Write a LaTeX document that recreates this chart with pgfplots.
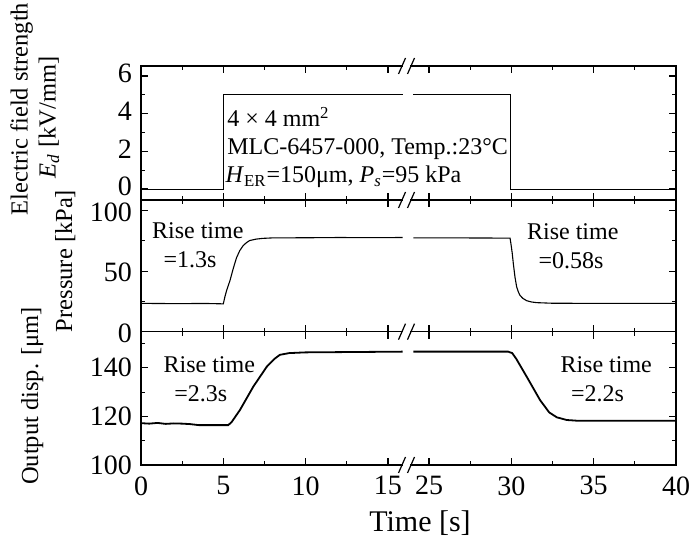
\documentclass[border=0pt]{standalone}
\usepackage{fontspec}
\setmainfont{Liberation Serif}
\usepackage{pgfplots}
\pgfplotsset{compat=1.18}
\newcommand{\fs}{\fontsize{12bp}{14bp}\selectfont}
\begin{document}
\begin{tikzpicture}
\useasboundingbox (0,0) rectangle (345bp,269.5bp);
\pgfplotsset{
 panel/.style={
  width=267.5bp, scale only axis, anchor=south west,
  xmin=0, xmax=32.5,
  xtick={0,5,10,15,17.5,22.5,27.5,32.5},
  minor xtick={2.5,7.5,12.5,20,25,30},
  xticklabels={},
  tick align=inside, xtick pos=both, ytick pos=both,
  major tick length=3.5bp, minor tick length=2bp,
  every tick/.style={black, line width=0.6bp},
  every minor tick/.style={black, line width=0.5bp},
  axis line style={line width=0.8bp},
  clip=false,
  /pgf/number format/assume math mode=true,
  ticklabel style={font=\fontsize{14bp}{16bp}\selectfont},
  yticklabel style={xshift=-1bp, inner ysep=0pt},
  xticklabel style={yshift=-2.2bp},
 },
}
% ---------- bottom panel: output displacement
\begin{axis}[panel, name=bot, at={(70.5bp,37bp)}, height=66.65bp,
  ymin=100, ymax=154.8, ytick={100,120,140}, minor ytick={110,130,150},
  xticklabels={0,5,10,15,25,30,35,40}]
\addplot[black, line width=0.9bp] coordinates {
 (0,117.2) (0.5,117.0) (1,117.3) (1.5,116.9) (2,117.1) (2.5,117.0) (3,116.8)
 (3.5,116.4) (4.5,116.4) (5.3,116.4) (5.5,117.6) (6.01,122.6) (6.82,132.2)
 (7.64,140.4) (8.1,143.6) (8.44,145.3) (9,146.0) (10,146.3) (12,146.4)
 (14,146.5) (15.9,146.6)};
\addplot[black, line width=0.9bp] coordinates {
 (16.55,146.6) (19,146.6) (22.3,146.6) (22.55,146.0) (22.8,143.6)
 (23.43,136.3) (24.24,126.7) (24.8,121.6) (25.26,119.6) (25.86,118.5)
 (26.5,118.2) (29,118.2) (32.5,118.2)};
\node[anchor=base west, inner sep=0pt, font=\fs] at (axis cs:1.35,137.9) {Rise time};
\node[anchor=base west, inner sep=0pt, font=\fs] at (axis cs:2.0,125.9) {=2.3s};
\node[anchor=base west, inner sep=0pt, font=\fs] at (axis cs:25.46,137.9) {Rise time};
\node[anchor=base west, inner sep=0pt, font=\fs] at (axis cs:26.1,125.9) {=2.2s};
\end{axis}
% ---------- middle panel: pressure
\begin{axis}[panel, name=mid, at={(70.5bp,103.65bp)}, height=65.85bp,
  ymin=0, ymax=108.8, ytick={0,50,100}, minor ytick={25,75},
  yticklabel style={yshift=-0.8bp}]
\addplot[black, line width=0.55bp] coordinates {
 (0,23.4) (2,23.2) (4,23.3) (5,23.0) (5.1,29) (5.2,34) (5.3,38) (5.4,42)
 (5.6,52) (5.8,61) (6.0,67) (6.2,71) (6.4,73.5) (6.6,75.3) (7.0,76.5)
 (7.4,77.1) (8,77.5) (10,77.6) (12,77.8) (14,77.7) (15.9,77.8)};
\addplot[black, line width=0.55bp] coordinates {
 (16.55,77.5) (19,77.5) (22.42,77.3) (22.48,72) (22.55,65) (22.62,56)
 (22.72,45) (22.82,37) (22.92,33) (23.02,30) (23.2,27.5) (23.43,25.6)
 (23.7,24.6) (24.03,24.0) (25,23.5) (28,23.4) (32.5,23.4)};
\node[anchor=base west, inner sep=0pt, font=\fs] at (axis cs:0.65,77.2) {Rise time};
\node[anchor=base west, inner sep=0pt, font=\fs] at (axis cs:1.35,53.2) {=1.3s};
\node[anchor=base west, inner sep=0pt, font=\fs] at (axis cs:23.43,75.8) {Rise time};
\node[anchor=base west, inner sep=0pt, font=\fs] at (axis cs:24.13,52.4) {=0.58s};
\end{axis}
% ---------- top panel: electric field
\begin{axis}[panel, name=top, at={(70.5bp,169.5bp)}, height=67bp,
  ymin=-0.58, ymax=6.53, ytick={0,2,4,6}, minor ytick={1,3,5},
  yticklabel style={yshift=1.2bp}]
\addplot[black, line width=0.55bp] coordinates {(0,0) (5,0) (5,5) (15.9,5)};
\addplot[black, line width=0.55bp] coordinates {(16.55,5) (22.45,5) (22.45,0) (32.5,0)};
\node[anchor=base west, inner sep=0pt, font=\fs] at (axis cs:5.22,3.31) {4 × 4 mm\textsuperscript{2}};
\node[anchor=base west, inner sep=0pt, font=\fs] at (axis cs:5.22,1.81) {MLC-6457-000, Temp.:23°C};
\node[anchor=base west, inner sep=0pt, font=\fs] at (axis cs:5.12,0.33) {\textit{H}\textsubscript{ER}=150μm, \textit{P}\textsubscript{\textit{s}}=95 kPa};
\end{axis}
% ---------- axis break marks
\foreach \yy in {236.5bp,169.5bp,103.65bp,37bp}{
  \fill[white] (201.5bp,\yy-1.2bp) rectangle (205bp,\yy+1.2bp);
  \draw[black, line width=0.6bp] (199.25bp,\yy-4bp) -- (202.75bp,\yy+4bp);
  \draw[black, line width=0.6bp] (203.75bp,\yy-4bp) -- (207.25bp,\yy+4bp);
}
% ---------- axis labels
\node[rotate=90, anchor=base, font=\fontsize{12.25bp}{14bp}\selectfont] at (13.8bp,215bp) {Electric field strength};
\node[rotate=90, anchor=base, font=\fontsize{12.25bp}{14bp}\selectfont] at (27.75bp,210.75bp) {\textit{E}\textsubscript{\textit{d}} [kV/mm]};
\node[rotate=90, anchor=base, font=\fontsize{12.25bp}{14bp}\selectfont] at (36bp,139bp) {Pressure [kPa]};
\node[rotate=90, anchor=base, font=\fontsize{12.25bp}{14bp}\selectfont] at (19bp,71.5bp) {Output disp. [μm]};
\node[anchor=base, font=\fontsize{15bp}{17bp}\selectfont] at (210bp,3.65bp) {Time [s]};
\end{tikzpicture}
\end{document}
